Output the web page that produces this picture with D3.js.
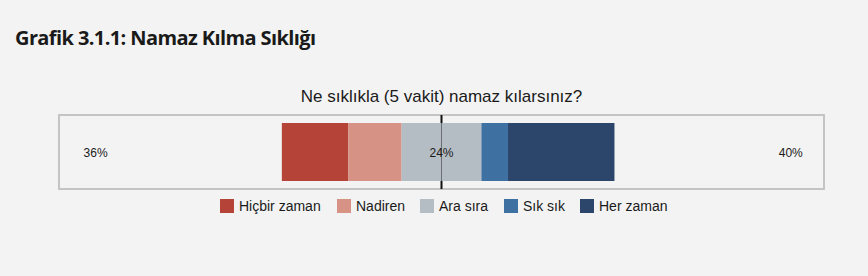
<!DOCTYPE html>
<html>
<head>
<meta charset="utf-8">
<script src="https://cdn.jsdelivr.net/npm/d3@7"></script>
<style>
  body { margin: 0; background: #f3f3f3; }
  svg text { font-family: "Liberation Sans", Arial, sans-serif; fill: #1a1a1a; }
</style>
</head>
<body>
<div id="chart"></div>
<script>
// Define SVG area dimensions
var svgWidth = 868;
var svgHeight = 276;

// Data
var categories = ["Hiçbir zaman", "Nadiren", "Ara sıra", "Sık sık", "Her zaman"];
var values = [20, 16, 24, 8, 32];
var colors = ["#b54338", "#d69285", "#b5bdc4", "#3e71a1", "#2c456b"];
var sideLabels = ["36%", "24%", "40%"];

var svg = d3.select("#chart")
  .append("svg")
  .attr("width", svgWidth)
  .attr("height", svgHeight);

// Title
svg.append("text")
  .attr("x", 15)
  .attr("y", 45)
  .style("font-family", "'Open Sans', sans-serif")
  .style("font-weight", "bold")
  .style("font-size", "20px")
  .style("letter-spacing", "-0.6px")
  .text("Grafik 3.1.1: Namaz Kılma Sıklığı");

// x scale centered on the neutral midpoint
var x = d3.scaleLinear().domain([-115, 115]).range([59, 824]);

var boxTop = 115, boxBottom = 189;
var barTop = 123, barBottom = 181;

svg.append("text")
  .attr("x", x(0))
  .attr("y", 102)
  .attr("text-anchor", "middle")
  .style("font-size", "17px")
  .text("Ne sıklıkla (5 vakit) namaz kılarsınız?");

// plot box
svg.append("rect")
  .attr("x", x(-115))
  .attr("y", boxTop)
  .attr("width", x(115) - x(-115))
  .attr("height", boxBottom - boxTop)
  .attr("fill", "#f3f3f3")
  .attr("stroke", "#c4c4c4")
  .attr("stroke-width", 2);

// center line
svg.append("line")
  .attr("x1", x(0)).attr("x2", x(0))
  .attr("y1", boxTop).attr("y2", boxBottom)
  .attr("stroke", "#111")
  .attr("stroke-width", 2);

// stacked segments, start so the neutral one is centered
var start = -(values[0] + values[1] + values[2] / 2);
var segs = [];
var acc = start;
values.forEach(function(v, i) {
  segs.push({ cat: categories[i], x0: acc, x1: acc + v, color: colors[i] });
  acc += v;
});

svg.selectAll("rect.seg")
  .data(segs)
  .enter()
  .append("rect")
  .attr("class", "seg")
  .attr("x", d => x(d.x0))
  .attr("y", barTop)
  .attr("width", d => x(d.x1) - x(d.x0))
  .attr("height", barBottom - barTop)
  .attr("fill", d => d.color);

// faint center line through the bar
svg.append("line")
  .attr("x1", x(0)).attr("x2", x(0))
  .attr("y1", barTop).attr("y2", barBottom)
  .attr("stroke", "#6a6e72")
  .attr("stroke-width", 1);

// summary labels
var labelPos = [-104, 0, 105];
svg.selectAll("text.sum")
  .data(sideLabels)
  .enter()
  .append("text")
  .attr("class", "sum")
  .attr("x", (d, i) => x(labelPos[i]))
  .attr("y", 157)
  .attr("text-anchor", "middle")
  .style("font-size", "12px")
  .text(d => d);

// legend
var legendX = [220, 337, 420, 504, 580];
var legend = svg.selectAll("g.leg")
  .data(categories)
  .enter()
  .append("g")
  .attr("class", "leg")
  .attr("transform", (d, i) => `translate(${legendX[i]}, 199)`);

legend.append("rect")
  .attr("width", 14)
  .attr("height", 14)
  .attr("fill", (d, i) => colors[i]);

legend.append("text")
  .attr("x", 19)
  .attr("y", 12)
  .style("font-size", "14px")
  .text(d => d);
</script>
</body>
</html>
